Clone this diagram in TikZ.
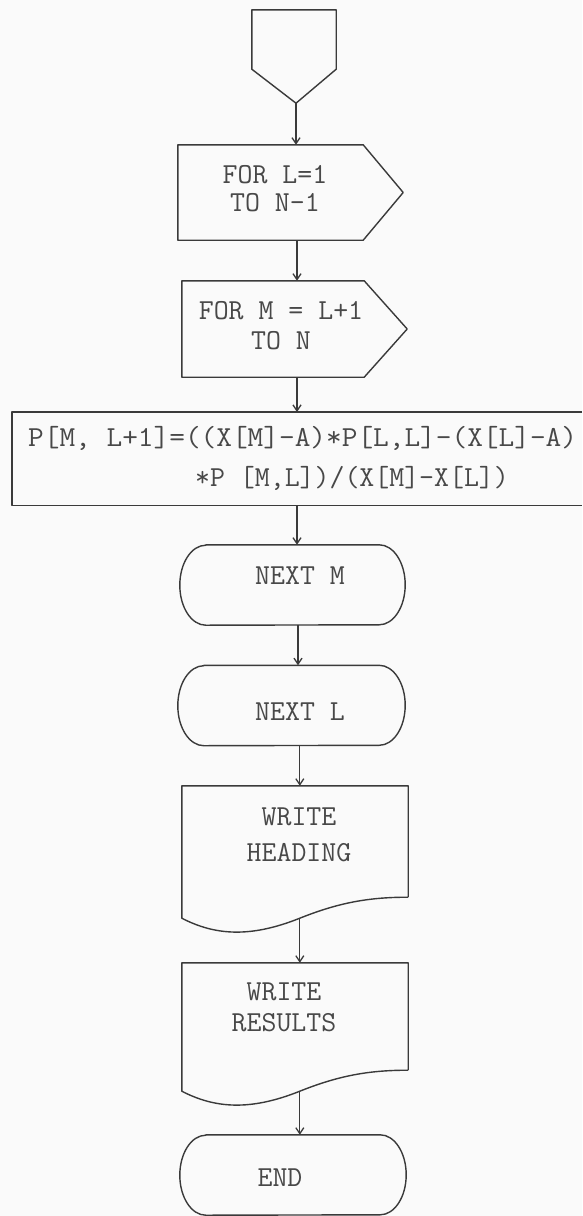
\documentclass[tikz,border=0pt]{standalone}
\usetikzlibrary{arrows.meta,calc}
\definecolor{ink}{HTML}{3A3A3A}
\definecolor{inktext}{HTML}{484848}
\definecolor{paper}{HTML}{FAFAFA}
\tikzset{
  outline/.style={draw=ink, line width=1.4pt, line join=round},
  lbl/.style={font=\ttfamily\fontsize{29}{29}\selectfont, text=inktext, inner sep=0pt, align=center},
  lineTxt/.style={font=\ttfamily\fontsize{29}{29}\selectfont, text=inktext, inner sep=0pt},
  boxnode/.style={inner sep=0pt, draw=none},
  arr/.style={draw=ink, line width=1.3pt, -{Straight Barb[length=6pt,width=8pt]}},
}
\newcommand\drawterminal[1]{%
  \draw[outline] ([xshift=26pt]#1.north west) -- ([xshift=-26pt]#1.north east)
    arc[start angle=90,end angle=-90,x radius=26pt,y radius=40pt]
    -- ([xshift=26pt]#1.south west)
    arc[start angle=270,end angle=90,x radius=26pt,y radius=40pt] -- cycle;}
\newcommand\drawdocument[1]{%
  \draw[outline] (#1.south east) -- (#1.north east) -- (#1.north west)
    -- ($(#1.south west)+(0,21)$)
    .. controls ($(#1.south west)+(33,38)$) and ($(#1.south west)+(68,41)$) .. ($(#1.south west)+(118,21)$)
    .. controls ($(#1.south west)+(158,5)$) and ($(#1.south west)+(188,0)$) .. (#1.south east);
  \coordinate (#1wave) at ($(#1.south west)+(118,21)$);}
\begin{document}
\begin{tikzpicture}[x=1pt,y=-1pt]
\fill[paper] (0,0) rectangle (582,1216);
\useasboundingbox (0,0) rectangle (582,1216);
\coordinate (axis) at (297,0);

% start symbol
\node[boxnode, minimum width=84pt, minimum height=59pt] (start) at (294,39.5) {};
\coordinate (startTip) at ($(start.south)+(2,34)$);
\draw[outline] (start.south west) -- (start.north west) -- (start.north east) -- (start.south east) -- (startTip) -- cycle;

% FOR L
\node[boxnode, minimum width=185pt, minimum height=95pt] (forL) at (270.5,192.5) {};
\draw[outline] (forL.north west) -- (forL.north east) -- ($(forL.east)+(40,0)$) -- (forL.south east) -- (forL.south west) -- cycle;
\node[lbl] (forLtxt) at (275,189) {FOR L=1\\[-1pt]TO N-1};

% FOR M
\node[boxnode, minimum width=182pt, minimum height=96pt] (forM) at (273,329) {};
\draw[outline] (forM.north west) -- (forM.north east) -- ($(forM.east)+(43,0)$) -- (forM.south east) -- (forM.south west) -- cycle;
\node[lbl] (forMtxt) at (281,326) {FOR M = L+1\\[1pt]TO N};

% update formula
\node[boxnode, minimum width=600pt, minimum height=93pt, anchor=north west] (upd) at (12,412) {};
\draw[outline] ($(upd.north west)+(570,0)$) -- (upd.north west) -- (upd.south west) -- ($(upd.south west)+(570,0)$);
\node[lineTxt, anchor=base west] (upd1) at (28,446) {\scalebox{1.05}[1]{P[M, L+1]=((X[M]-A)*P[L,L]-(X[L]-A)}};
\node[lineTxt, anchor=base west] (upd2) at (195,486) {*P [M,L])/(X[M]-X[L])};

% NEXT M
\node[boxnode, minimum width=225pt, minimum height=80pt] (nextM) at (292.5,585) {};
\drawterminal{nextM}
\node[lineTxt] (nextMtxt) at (300,576) {NEXT M};

% NEXT L
\node[boxnode, minimum width=227pt, minimum height=80pt] (nextL) at (291.5,705.5) {};
\drawterminal{nextL}
\node[lineTxt] (nextLtxt) at (300,712) {NEXT L};

% WRITE HEADING
\node[boxnode, minimum width=226pt, minimum height=111pt] (h) at (295,841.5) {};
\drawdocument{h}
\node[lbl] (htxt) at (299,835) {WRITE\\[7pt]HEADING};

% WRITE RESULTS
\node[boxnode, minimum width=226pt, minimum height=107pt] (r) at (295,1016.5) {};
\drawdocument{r}
\node[lbl] (rtxt) at (284,1007) {WRITE\\[2pt]RESULTS};

% END
\node[boxnode, minimum width=226pt, minimum height=80pt] (endN) at (293,1175) {};
\drawterminal{endN}
\node[lineTxt] (endtxt) at (280,1178) {END};

% connectors
\draw[arr] (startTip) -- (startTip |- forL.north);
\draw[arr] (forL.south -| axis) -- (forM.north -| axis);
\draw[arr] (forM.south -| axis) -- (upd.north -| axis);
\draw[arr] (upd.south -| axis) -- (nextM.north -| axis);
\draw[arr] ([xshift=1pt]nextM.south -| axis) -- ([xshift=1pt]nextL.north -| axis);
\draw[arr] (nextL.south -| hwave) -- (h.north -| hwave);
\draw[arr] (hwave) -- (hwave |- r.north);
\draw[arr] (rwave) -- (rwave |- endN.north);
\end{tikzpicture}
\end{document}
